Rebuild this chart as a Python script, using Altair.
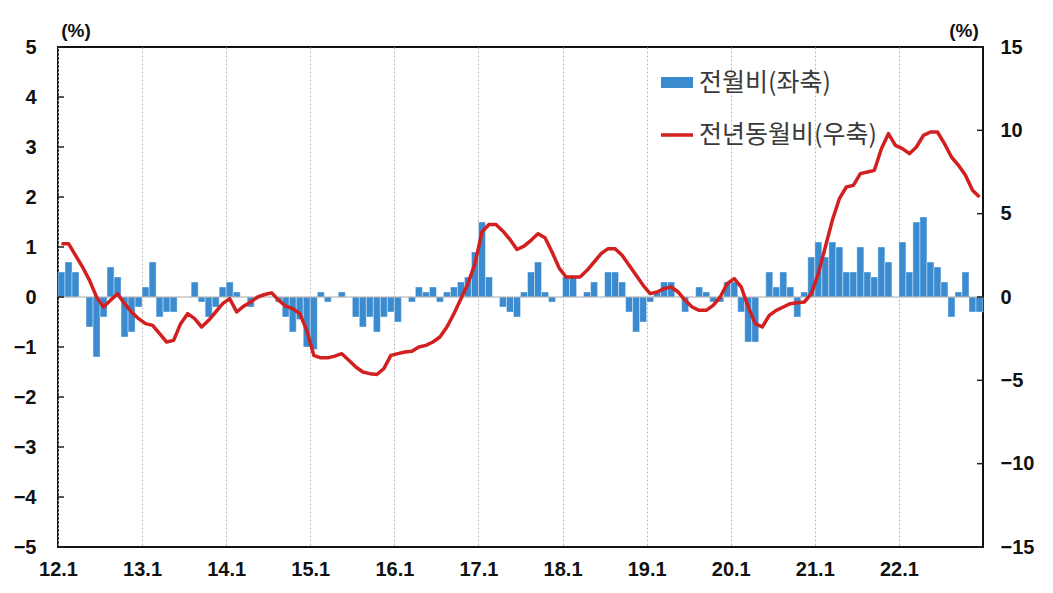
import altair as alt
import pandas as pd

# 전월비 (좌축, %) monthly 2012.1 - 2022.12
mom = [
    0.5, 0.7, 0.5, 0.0, -0.6, -1.2, -0.4, 0.6, 0.4, -0.8, -0.7, -0.2,      # 2012
    0.2, 0.7, -0.4, -0.3, -0.3, 0.0, 0.0, 0.3, -0.1, -0.4, -0.2, 0.2,      # 2013
    0.3, 0.1, 0.0, -0.2, 0.0, 0.0, 0.0, -0.1, -0.4, -0.7, -0.45, -1.0,     # 2014
    -1.05, 0.1, -0.1, 0.0, 0.1, 0.0, -0.4, -0.6, -0.4, -0.7, -0.4, -0.3,   # 2015
    -0.5, 0.0, -0.1, 0.2, 0.1, 0.2, -0.1, 0.1, 0.2, 0.3, 0.4, 0.9,         # 2016
    1.5, 0.4, 0.0, -0.2, -0.3, -0.4, 0.1, 0.5, 0.7, 0.1, -0.1, 0.0,        # 2017
    0.4, 0.4, 0.0, 0.1, 0.3, 0.0, 0.5, 0.5, 0.3, -0.3, -0.7, -0.5,         # 2018
    -0.1, 0.1, 0.3, 0.3, 0.0, -0.3, 0.0, 0.2, 0.1, -0.1, -0.1, 0.3,        # 2019
    0.3, -0.3, -0.9, -0.9, 0.0, 0.5, 0.2, 0.5, 0.2, -0.4, 0.1, 0.8,        # 2020
    1.1, 0.8, 1.1, 1.0, 0.5, 0.5, 1.0, 0.5, 0.4, 1.0, 0.7, 0.0,            # 2021
    1.1, 0.5, 1.5, 1.6, 0.7, 0.6, 0.3, -0.4, 0.1, 0.5, -0.3, -0.3,         # 2022
]

# 전년동월비 (우축, %)
yoy = [
    3.2, 3.2, 2.5, 1.8, 1.0, 0.0, -0.6, -0.2, 0.2, -0.4, -0.9, -1.3,       # 2012
    -1.6, -1.7, -2.2, -2.7, -2.6, -1.6, -1.0, -1.3, -1.8, -1.4, -0.9, -0.4, # 2013
    -0.1, -0.9, -0.55, -0.3, 0.0, 0.15, 0.25, -0.2, -0.55, -0.7, -1.0, -2.0, # 2014
    -3.5, -3.65, -3.65, -3.55, -3.4, -3.8, -4.2, -4.5, -4.6, -4.65, -4.3, -3.5, # 2015
    -3.4, -3.3, -3.25, -3.0, -2.9, -2.7, -2.4, -1.8, -1.0, -0.1, 0.8, 2.0, # 2016
    3.9, 4.35, 4.35, 3.95, 3.45, 2.85, 3.05, 3.4, 3.8, 3.55, 2.7, 1.75,    # 2017
    1.2, 1.2, 1.2, 1.6, 2.1, 2.6, 2.9, 2.9, 2.5, 1.9, 1.3, 0.7,            # 2018
    0.2, 0.3, 0.5, 0.6, 0.3, -0.2, -0.6, -0.8, -0.8, -0.5, 0.0, 0.8,       # 2019
    1.1, 0.6, -0.6, -1.6, -1.8, -1.1, -0.8, -0.6, -0.4, -0.35, -0.3, 0.2,  # 2020
    1.4, 3.0, 4.6, 5.9, 6.6, 6.7, 7.4, 7.5, 7.6, 8.9, 9.8, 9.1,            # 2021
    8.9, 8.6, 9.0, 9.7, 9.9, 9.9, 9.2, 8.4, 7.9, 7.3, 6.4, 6.0,            # 2022
]

x_labels = ["12.1", "13.1", "14.1", "15.1", "16.1", "17.1",
            "18.1", "19.1", "20.1", "21.1", "22.1"]
left_ticks = [-5, -4, -3, -2, -1, 0, 1, 2, 3, 4, 5]
right_ticks = [-15, -10, -5, 0, 5, 10, 15]
legend_labels = ["전월비(좌축)", "전년동월비(우축)"]
unit_label = "(%)"

n = len(mom)
df = pd.DataFrame({
    "i": list(range(n)),
    "i2": [k + 1 for k in range(n)],
    "xc": [k + 0.5 for k in range(n)],
    "mom": mom,
    "yoy": yoy,
})

BLUE = "#3B8BD0"
RED = "#D21F1F"
FONT_NUM = "Liberation Sans"
FONT_KR = "Noto Sans CJK KR"
W, H = 925, 500

label_js = "[" + ",".join(f"'{s}'" for s in x_labels) + "][round(datum.value/12)]"
xscale = alt.Scale(domain=[0, n], nice=False, zero=False)
xaxis = alt.Axis(
    values=[12 * k for k in range(len(x_labels))], labelExpr=label_js,
    grid=True, gridDash=[2, 2], gridColor="#b8b8b8", gridWidth=1,
    ticks=False, domain=False, labelFont=FONT_NUM, labelFontSize=20,
    labelFontWeight="bold", labelColor="#111", labelPadding=12,
    labelFlush=False, labelOverlap=False, title=None,
)
yL = alt.Scale(domain=[-5, 5], nice=False, zero=False)
yR = alt.Scale(domain=[-15, 15], nice=False, zero=False)
yLaxis = alt.Axis(
    values=left_ticks, orient="left", ticks=False, domain=False, grid=False,
    labelFont=FONT_NUM, labelFontSize=20, labelFontWeight="bold",
    labelColor="#111", labelPadding=22, labelFlush=False,
    labelOverlap=False, title=None,
)
yRaxis = alt.Axis(
    values=right_ticks, orient="right", ticks=False, domain=False, grid=False,
    labelFont=FONT_NUM, labelFontSize=20, labelFontWeight="bold",
    labelColor="#111", labelPadding=17, labelAlign="left", labelFlush=False,
    labelOverlap=False, title=None,
)

bars = alt.Chart(df).mark_rect(color=BLUE, stroke="white", strokeWidth=0.4).encode(
    x=alt.X("i:Q", scale=xscale, axis=xaxis),
    x2="i2:Q",
    y=alt.Y("mom:Q", scale=yL, axis=yLaxis),
    y2=alt.datum(0),
)

zero = alt.Chart(pd.DataFrame({"z": [0]})).mark_rule(color="#a8a8a8", strokeWidth=1).encode(
    y=alt.Y("z:Q", scale=yL, axis=None)
)

lticks = alt.Chart(pd.DataFrame({"t": left_ticks})).mark_rule(color="#222", strokeWidth=1.5).encode(
    y=alt.Y("t:Q", scale=yL, axis=None), x=alt.value(0), x2=alt.value(6)
)
rticks = alt.Chart(pd.DataFrame({"t": right_ticks})).mark_rule(color="#222", strokeWidth=1.5).encode(
    y=alt.Y("t:Q", scale=yR, axis=None), x=alt.value(W - 6), x2=alt.value(W)
)

line = alt.Chart(df).mark_line(color=RED, strokeWidth=3.5, strokeJoin="round").encode(
    x=alt.X("xc:Q", scale=xscale, axis=xaxis),
    y=alt.Y("yoy:Q", scale=yR, axis=yRaxis),
)

dummy = pd.DataFrame({"a": [0]})
leg_rect = alt.Chart(dummy).mark_rect(color=BLUE).encode(
    x=alt.value(603), x2=alt.value(635), y=alt.value(30), y2=alt.value(41)
)
leg_line = alt.Chart(dummy).mark_rule(color=RED, strokeWidth=3.5).encode(
    x=alt.value(603), x2=alt.value(635), y=alt.value(88)
)
leg_t1 = alt.Chart(dummy).mark_text(
    align="left", baseline="middle", font=FONT_KR, fontSize=25, color="#3a3a3a"
).encode(x=alt.value(641), y=alt.value(36), text=alt.value(legend_labels[0]))
leg_t2 = alt.Chart(dummy).mark_text(
    align="left", baseline="middle", font=FONT_KR, fontSize=25, color="#3a3a3a"
).encode(x=alt.value(641), y=alt.value(88), text=alt.value(legend_labels[1]))

pct_l = alt.Chart(dummy).mark_text(
    align="center", baseline="middle", font=FONT_NUM, fontSize=19,
    fontWeight="bold", color="#111"
).encode(x=alt.value(18), y=alt.value(-16), text=alt.value(unit_label))
pct_r = alt.Chart(dummy).mark_text(
    align="center", baseline="middle", font=FONT_NUM, fontSize=19,
    fontWeight="bold", color="#111"
).encode(x=alt.value(W - 19), y=alt.value(-16), text=alt.value(unit_label))

chart = alt.layer(
    bars, zero, lticks, line, rticks, leg_rect, leg_line, leg_t1, leg_t2, pct_l, pct_r
).resolve_scale(
    y="independent"
).properties(
    width=W, height=H,
    padding={"left": 50, "top": 39, "right": 62, "bottom": 40},
    autosize=alt.AutoSizeParams(type="none"),
    background="white",
).configure_view(
    stroke="#111", strokeWidth=2
)

chart.save("out.html", embed_options={"renderer": "svg", "actions": False})
